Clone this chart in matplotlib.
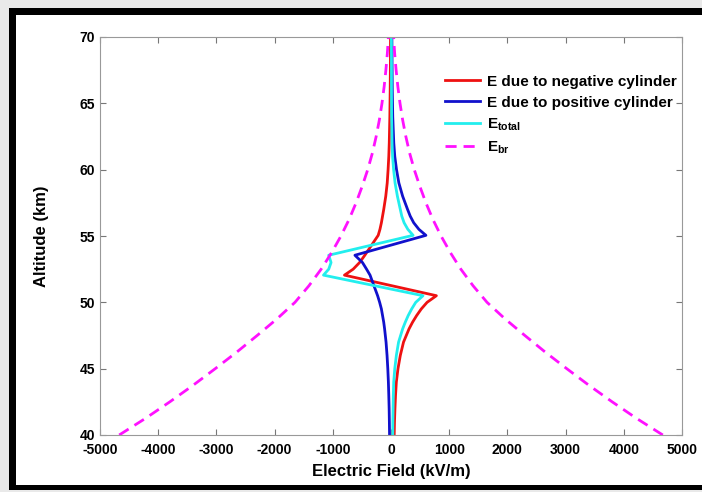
import matplotlib
matplotlib.use("Agg")
import matplotlib.pyplot as plt
from matplotlib.patches import Rectangle

plt.rcParams["font.family"] = ["Liberation Sans", "DejaVu Sans"]
plt.rcParams["mathtext.fontset"] = "custom"
plt.rcParams["mathtext.rm"] = "Liberation Sans"
plt.rcParams["mathtext.bf"] = "Liberation Sans:bold"
plt.rcParams["axes.unicode_minus"] = False

# --- data (altitude in km, field in kV/m) ---
alt = [40, 41, 42, 43, 44, 45, 46, 47, 48, 48.5, 49, 49.5, 50, 50.5,
       52.05, 52.5, 53, 53.55, 55.05, 55.5, 56, 56.5, 57, 58, 59, 60,
       61, 62, 64, 66, 68, 70]
e_neg = [55, 60, 68, 78, 92, 120, 160, 215, 310, 370, 440, 520, 620, 780,
         -800, -650, -540, -450, -220, -190, -165, -145, -125, -90, -65, -50,
         -38, -30, -20, -14, -10, -8]
e_pos = [-25, -28, -32, -38, -45, -55, -68, -85, -110, -125, -145, -165, -195, -230,
         -360, -420, -490, -620, 600, 480, 390, 330, 285, 200, 135, 95,
         65, 48, 30, 22, 18, 15]
e_total = [30, 32, 36, 40, 47, 65, 92, 130, 200, 245, 295, 355, 425, 550,
           -1160, -1070, -1030, -1070, 380, 290, 225, 185, 160, 110, 70, 45,
           27, 18, 10, 8, 8, 7]

alt_br = [40, 41.25, 42.5, 43.75, 45, 46.25, 47.5, 48.75, 50, 51.25, 52.5, 53.75,
          55, 56.25, 57.5, 58.75, 60, 61.25, 62.5, 63.75, 65, 66.25, 67.5, 68.75, 70]
e_br = [4670, 4220, 3800, 3400, 3020, 2650, 2300, 1960, 1650, 1410, 1200, 1020,
        860, 720, 600, 495, 400, 320, 255, 200, 155, 118, 88, 63, 45]

fig = plt.figure(figsize=(7.02, 4.92), dpi=100, facecolor="#e9e9e9")

# black frame around the white panel (right side is cut off in the original)
W, H = 702, 492
fig.patches.append(Rectangle((9 / W, 2 / H), 1 - 9 / W, 482 / H, transform=fig.transFigure,
                             facecolor="black", edgecolor="none", zorder=-3))
fig.patches.append(Rectangle((16 / W, 7 / H), 1 - 16 / W, 470 / H, transform=fig.transFigure,
                             facecolor="white", edgecolor="none", zorder=-2))

ax = fig.add_axes([100 / W, 1 - 435 / H, 582 / W, 398 / H])

ax.plot(e_neg, alt, color="#ee1111", lw=2, label="E due to negative cylinder")
ax.plot(e_pos, alt, color="#1111cc", lw=2, label="E due to positive cylinder")
ax.plot(e_total, alt, color="#22eeee", lw=2, label=r"$\mathbf{E_{total}}$")
ax.plot(e_br, alt_br, color="#ff11ff", lw=2, ls=(0, (4, 2.5)), label=r"$\mathbf{E_{br}}$")
ax.plot([-v for v in e_br], alt_br, color="#ff11ff", lw=2, ls=(0, (4, 2.5)))

ax.set_xlim(-5000, 5000)
ax.set_ylim(40, 70)
ax.set_xticks(range(-5000, 5001, 1000))
ax.set_yticks(range(40, 71, 5))
ax.tick_params(direction="in", top=True, right=True, length=4, color="#777777",
               labelsize=10)
ax.tick_params(axis="x", pad=6)
for lbl in ax.get_xticklabels() + ax.get_yticklabels():
    lbl.set_fontweight("bold")
for sp in ax.spines.values():
    sp.set_color("#999999")

ax.set_xlabel("Electric Field (kV/m)", fontsize=12, fontweight="bold", labelpad=5)
ax.set_ylabel("Altitude (km)", fontsize=12, fontweight="bold", labelpad=22)

leg = ax.legend(loc="upper left", bbox_to_anchor=(0.592, 0.905), frameon=False,
                prop={"weight": "bold", "size": 11}, handlelength=2.3,
                handletextpad=0.45, labelspacing=0.45, borderpad=0,
                borderaxespad=0)

fig.savefig("out.png", dpi=100, facecolor=fig.get_facecolor())
